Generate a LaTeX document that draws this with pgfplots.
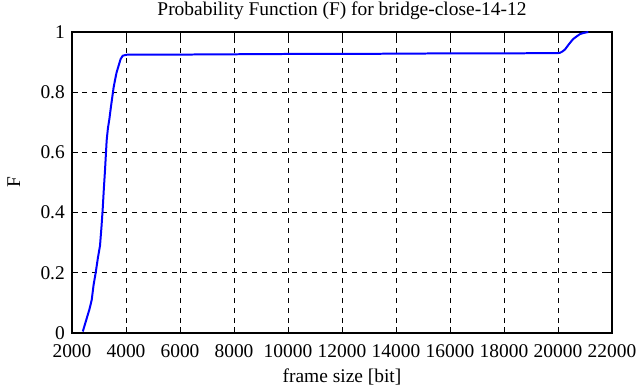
\documentclass[border=0pt]{standalone}
\usepackage{pgfplots}
\pgfplotsset{compat=1.18}
\usepackage{fontspec}
\setmainfont{Liberation Serif}
\begin{document}
\begin{tikzpicture}[x=1bp,y=1bp]
\begin{axis}[
  scale only axis,
  width=540bp, height=301bp,
  xmin=2000, xmax=22000, ymin=0, ymax=1,
  xtick={2000,4000,...,22000},
  ytick={0,0.2,...,1},
  yticklabels={0,0.2,0.4,0.6,0.8,1},
  scaled x ticks=false,
  /pgf/number format/assume math mode=true,
  /pgf/number format/1000 sep={},
  tick align=inside,
  tick style={black, line width=1pt},
  major tick length=6bp,
  axis line style={black, line width=1.2pt},
  grid=major,
  major grid style={black, dash pattern=on 5bp off 5bp, line width=0.7pt},
  ticklabel style={font=\fontsize{19.5}{22}\selectfont, inner sep=0pt},
  label style={font=\fontsize{19.5}{22}\selectfont, inner sep=0pt},
  title style={font=\fontsize{19.5}{22}\selectfont, inner sep=0pt, at={(axis description cs:0.5,1.035)}, anchor=base},
  title={Probability Function (F) for bridge-close-14-12},
  xlabel={frame size [bit]},
  ylabel={F},
  xlabel style={at={(axis description cs:0.5,-0.166)}, anchor=base},
  ylabel style={at={(axis description cs:-0.108,0.5)}, anchor=center},
  xticklabel style={anchor=base, yshift=-24bp},
  yticklabel style={anchor=east, xshift=-7bp},
]
\addplot[color={rgb,255:red,0;green,0;blue,255}, line width=2pt] coordinates {
(2400,0.005) (2440,0.017) (2550,0.05) (2650,0.08) (2730,0.11) (2800,0.16) (2877,0.20)
(2960,0.25) (3037,0.29) (3090,0.35) (3136,0.41) (3180,0.48) (3222,0.54)
(3284,0.64) (3330,0.68) (3383,0.71) (3440,0.75) (3494,0.785) (3540,0.815)
(3593,0.84) (3650,0.865) (3716,0.885) (3800,0.91) (3877,0.921) (4000,0.924)
(4086,0.925) (6000,0.925) (8000,0.926) (10000,0.927) (12000,0.927) (14000,0.928)
(16000,0.929) (18000,0.929) (20000,0.930) (20074,0.931) (20160,0.935)
(20260,0.942) (20383,0.957) (20480,0.968) (20567,0.977) (20700,0.986)
(20815,0.993) (20950,0.997) (21123,1.0)
};
\end{axis}
\pgfresetboundingbox
\useasboundingbox (-72,-54) rectangle (567,333);
\end{tikzpicture}
\end{document}
